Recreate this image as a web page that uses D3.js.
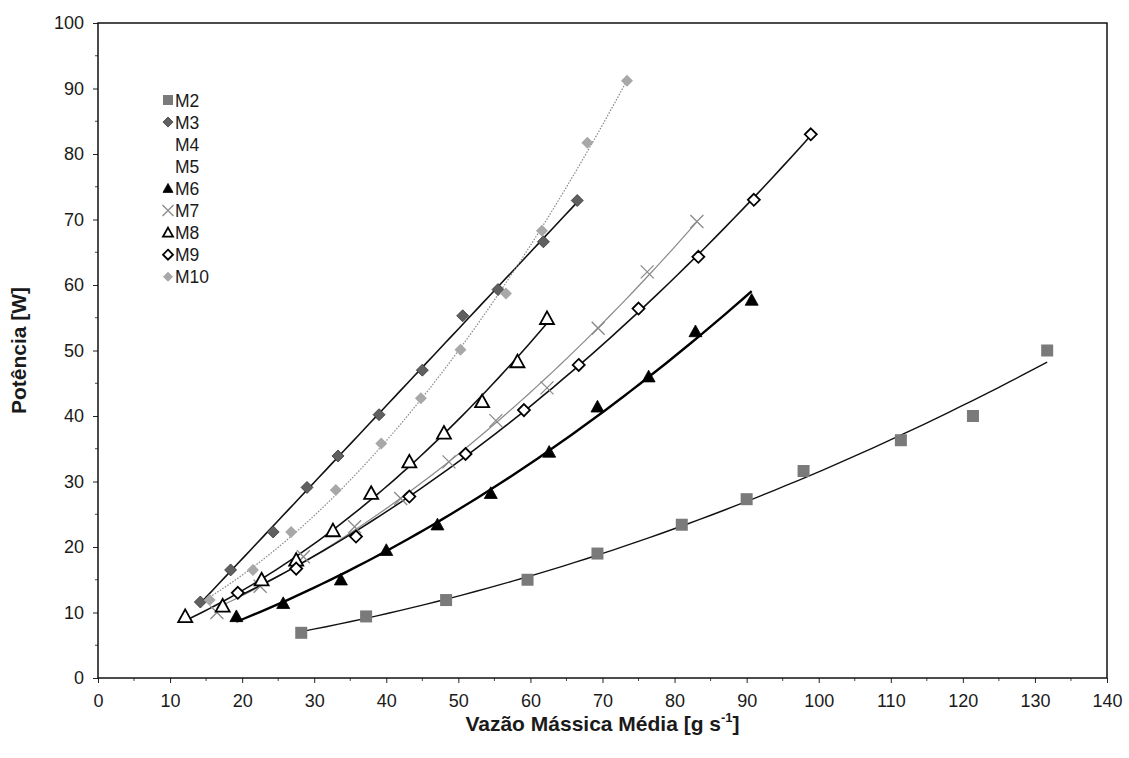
<!DOCTYPE html>
<html>
<head>
<meta charset="utf-8">
<script src="https://cdn.jsdelivr.net/npm/d3@7"></script>
<style>
  html, body { margin: 0; padding: 0; background: #fff; }
  svg { display: block; font-family: Arial, "Liberation Sans", sans-serif; }
</style>
</head>
<body>
<svg id="chart" width="1129" height="758"></svg>
<script>
// Mass flow rate [g/s] vs power [W] for each sample series
const seriesNames = ["M2", "M3", "M4", "M5", "M6", "M7", "M8", "M9", "M10"];

const m2 = [[28.2, 6.9], [37.2, 9.4], [48.3, 11.9], [59.6, 15.0], [69.3, 19.0], [81.0, 23.4],
            [90.0, 27.3], [97.9, 31.6], [111.4, 36.3], [121.4, 40.0], [131.7, 50.0]];
const m3 = [[14.2, 11.6], [18.4, 16.5], [24.3, 22.3], [29.0, 29.1], [33.3, 33.9], [39.0, 40.2],
            [45.0, 47.0], [50.6, 55.3], [55.5, 59.3], [61.8, 66.6], [66.5, 72.9]];
const m4 = [];
const m5 = [];
const m6 = [[19.2, 9.4], [25.7, 11.4], [33.7, 15.0], [40.0, 19.5], [47.1, 23.4], [54.5, 28.2],
            [62.6, 34.5], [69.3, 41.4], [76.4, 46.0], [82.9, 52.9], [90.7, 57.7]];
const m7 = [[16.5, 10.0], [22.5, 14.0], [28.5, 18.5], [35.6, 23.1], [42.0, 27.4], [48.7, 33.0],
            [55.2, 39.3], [62.3, 44.3], [69.4, 53.4], [76.2, 62.0], [83.1, 69.7]];
const m8 = [[12.1, 9.4], [17.3, 11.0], [22.7, 15.0], [27.5, 18.0], [32.6, 22.5], [37.9, 28.2],
            [43.2, 33.0], [48.0, 37.4], [53.3, 42.2], [58.2, 48.3], [62.3, 54.9]];
const m9 = [[19.4, 13.0], [27.5, 16.7], [35.8, 21.6], [43.2, 27.7], [51.0, 34.2], [59.1, 40.9],
            [66.7, 47.8], [75.0, 56.4], [83.3, 64.3], [91.0, 73.0], [98.9, 83.0]];
const m10 = [[15.5, 11.9], [21.5, 16.5], [26.8, 22.3], [33.0, 28.7], [39.3, 35.8], [44.8, 42.7],
             [50.3, 50.1], [56.6, 58.7], [61.6, 68.3], [67.9, 81.7], [73.4, 91.2]];

const xTicks = d3.range(0, 141, 10);
const yTicks = d3.range(0, 101, 10);

const series = [
  { name: "M2",  data: m2,  marker: "square",   fill: "#7a7a7a", stroke: "none",    line: "#111", lw: 1.4, dash: null },
  { name: "M3",  data: m3,  marker: "diamond",  fill: "#606060", stroke: "#333",    line: "#111", lw: 1.6, dash: null },
  { name: "M4",  data: m4,  marker: null },
  { name: "M5",  data: m5,  marker: null },
  { name: "M6",  data: m6,  marker: "triangle", fill: "#000",    stroke: "#000",    line: "#000", lw: 2.4, dash: null },
  { name: "M7",  data: m7,  marker: "cross",    fill: "none",    stroke: "#8a8a8a", line: "#888", lw: 1.2, dash: null },
  { name: "M8",  data: m8,  marker: "triangleOpen", fill: "#fff", stroke: "#000",   line: "#111", lw: 1.6, dash: null },
  { name: "M9",  data: m9,  marker: "diamondOpen",  fill: "#fff", stroke: "#000",   line: "#111", lw: 1.6, dash: null },
  { name: "M10", data: m10, marker: "diamond",  fill: "#a8a8a8", stroke: "none",    line: "#888", lw: 1.2, dash: "1.5,1.5" }
];

const svg = d3.select("#chart");
const margin = { left: 98, right: 22, top: 23, bottom: 80 };
const W = 1129, H = 758;

const x = d3.scaleLinear().domain([0, 140]).range([margin.left, W - margin.right]);
const y = d3.scaleLinear().domain([0, 100]).range([H - margin.bottom, margin.top]);

// Least-squares polynomial trendline
function polyFit(pts, deg) {
  const n = deg + 1;
  const A = Array.from({ length: n }, () => new Array(n + 1).fill(0));
  pts.forEach(([px, py]) => {
    for (let i = 0; i < n; i++) {
      for (let j = 0; j < n; j++) A[i][j] += Math.pow(px, i + j);
      A[i][n] += py * Math.pow(px, i);
    }
  });
  for (let c = 0; c < n; c++) {
    let p = c;
    for (let r = c + 1; r < n; r++) if (Math.abs(A[r][c]) > Math.abs(A[p][c])) p = r;
    [A[c], A[p]] = [A[p], A[c]];
    for (let r = 0; r < n; r++) {
      if (r === c) continue;
      const f = A[r][c] / A[c][c];
      for (let k = c; k <= n; k++) A[r][k] -= f * A[c][k];
    }
  }
  const coef = A.map((row, i) => row[n] / row[i]);
  return v => coef.reduce((s, c, i) => s + c * Math.pow(v, i), 0);
}

const g = svg.append("g");

// trendlines
const lineGen = d3.line().x(d => x(d[0])).y(d => y(d[1]));
series.forEach(s => {
  if (!s.data.length) return;
  const f = polyFit(s.data, 2);
  const [lo, hi] = d3.extent(s.data, d => d[0]);
  const pts = d3.range(0, 61).map(i => { const v = lo + (hi - lo) * i / 60; return [v, f(v)]; });
  g.append("path")
    .attr("d", lineGen(pts))
    .attr("fill", "none")
    .attr("stroke", s.line)
    .attr("stroke-width", s.lw)
    .attr("stroke-dasharray", s.dash);
});

// marker drawing
function drawMarker(sel, s, size) {
  const h = size / 2;
  if (s.marker === "square") {
    sel.append("rect").attr("x", -h).attr("y", -h).attr("width", size).attr("height", size)
      .attr("fill", s.fill);
  } else if (s.marker === "diamond" || s.marker === "diamondOpen") {
    sel.append("path").attr("d", `M0,${-h}L${h},0L0,${h}L${-h},0Z`)
      .attr("fill", s.fill).attr("stroke", s.stroke === "none" ? null : s.stroke)
      .attr("stroke-width", s.marker === "diamondOpen" ? 1.8 : 0.8);
  } else if (s.marker === "triangle" || s.marker === "triangleOpen") {
    sel.append("path").attr("d", `M0,${-h}L${h},${h * 0.8}L${-h},${h * 0.8}Z`)
      .attr("fill", s.fill).attr("stroke", s.stroke)
      .attr("stroke-width", s.marker === "triangleOpen" ? 1.8 : 0.8);
  } else if (s.marker === "cross") {
    sel.append("path").attr("d", `M${-h},${-h}L${h},${h}M${-h},${h}L${h},${-h}`)
      .attr("fill", "none").attr("stroke", s.stroke).attr("stroke-width", 1.3);
  }
}

const markerSize = { square: 12, diamond: 12, diamondOpen: 12, triangle: 13, triangleOpen: 14, cross: 13 };

series.forEach(s => {
  if (!s.marker) return;
  g.selectAll(null).data(s.data).enter().append("g")
    .attr("transform", d => `translate(${x(d[0])},${y(d[1])})`)
    .each(function () { drawMarker(d3.select(this), s, markerSize[s.marker]); });
});

// axes
const xAxis = d3.axisBottom(x).tickValues(xTicks).tickSize(5).tickPadding(11);
const yAxis = d3.axisLeft(y).tickValues(yTicks).tickSize(5).tickPadding(9);

const gx = svg.append("g").attr("transform", `translate(0,${y(0)})`).call(xAxis);
const gy = svg.append("g").attr("transform", `translate(${x(0)},0)`).call(yAxis);
[gx, gy].forEach(a => {
  a.select(".domain").remove();
  a.selectAll("text").attr("font-size", 18).attr("fill", "#1a1a1a")
    .attr("font-family", "Arial, 'Liberation Sans', sans-serif");
  a.selectAll("line").attr("stroke", "#222");
});

// minor ticks
svg.append("g").selectAll("line").data(d3.range(5, 140, 10)).enter().append("line")
  .attr("x1", d => x(d)).attr("x2", d => x(d)).attr("y1", y(0)).attr("y2", y(0) + 3).attr("stroke", "#444");
svg.append("g").selectAll("line").data(d3.range(5, 100, 10)).enter().append("line")
  .attr("y1", d => y(d)).attr("y2", d => y(d)).attr("x1", x(0)).attr("x2", x(0) - 3).attr("stroke", "#444");

// frame
svg.append("rect")
  .attr("x", x(0)).attr("y", y(100))
  .attr("width", x(140) - x(0)).attr("height", y(0) - y(100))
  .attr("fill", "none").attr("stroke", "#111").attr("stroke-width", 1.5);

// legend
const legend = svg.append("g");
series.forEach((s, i) => {
  const ly = 100 + i * 22.1;
  const row = legend.append("g").attr("transform", `translate(168,${ly})`);
  if (s.marker) drawMarker(row, s, s.marker === "cross" ? 11 : 10);
  row.append("text").attr("x", 7).attr("y", 6.5)
    .attr("font-size", 17.5).attr("fill", "#1a1a1a").text(s.name);
});

// axis titles
svg.append("text")
  .attr("transform", `translate(26,${(y(0) + y(100)) / 2}) rotate(-90)`)
  .attr("text-anchor", "middle").attr("font-size", 21).attr("font-weight", "bold").attr("fill", "#1a1a1a")
  .text("Potência [W]");

const xt = svg.append("text")
  .attr("x", (x(0) + x(140)) / 2).attr("y", 731)
  .attr("text-anchor", "middle").attr("font-size", 21).attr("font-weight", "bold").attr("fill", "#1a1a1a");
xt.append("tspan").text("Vazão Mássica Média [g s");
xt.append("tspan").attr("dy", -9).attr("font-size", 13).text("-1");
xt.append("tspan").attr("dy", 9).text("]");
</script>
</body>
</html>
